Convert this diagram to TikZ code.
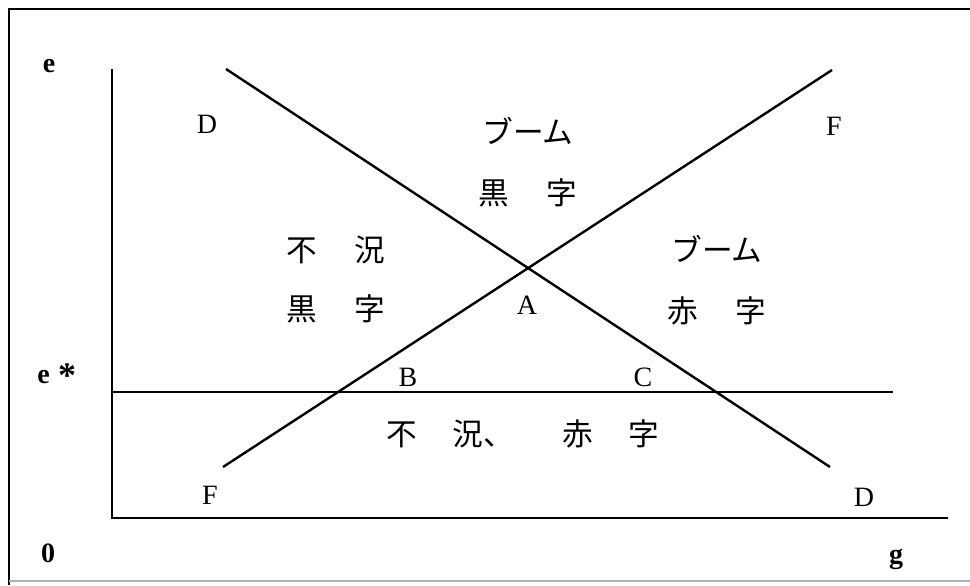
\documentclass[tikz,border=0pt]{standalone}
\usepackage{fontspec}
\setmainfont{Liberation Serif}
\newfontfamily\jp{Noto Sans CJK JP}
\begin{document}
\begin{tikzpicture}[x=0.75pt,y=-0.75pt,
  lat/.style={font=\fontsize{21}{23}\selectfont, inner sep=0pt},
  latb/.style={font=\fontsize{21}{23}\selectfont\bfseries, inner sep=0pt},
  jtxt/.style={font=\fontsize{23}{26}\selectfont\jp, inner sep=0pt},
  ln/.style={line width=1.8pt},
  ax/.style={line width=2.1pt}]
\useasboundingbox (0,0) rectangle (970,585);
\fill[white] (0,0) rectangle (970,585);
% frame
\draw[line width=1.8pt] (9,585) -- (9,9) -- (970,9);
\draw[line width=1pt, black!30] (9,581) -- (970,581);
% axes
\coordinate (ytop) at (112,69);
\coordinate (o) at (112,518);
\coordinate (xend) at (948,518);
\draw[ax] (ytop) -- (o) -- (xend);
% e* line
\coordinate (es0) at (112,392);
\coordinate (es1) at (893,392);
\draw[ln] (es0) -- (es1);
% D and F lines
\coordinate (d1) at (226,69);
\coordinate (d2) at (830,467);
\coordinate (f1) at (223,467);
\coordinate (f2) at (832,70);
\draw[ln] (d1) -- (d2);
\draw[ln] (f1) -- (f2);
% axis labels
\node[latb] (le) at (49,66) {e};
\node[latb, anchor=base west] (les) at (37,383) {e\hspace{0.3em}\raisebox{-0.15em}{\fontsize{27}{27}\selectfont *}};
\node[latb] (lo) at (48,553) {0};
\node[latb] (lg) at (896,559) {g};
% curve labels
\node[lat] (lD1) at (207,124) {D};
\node[lat] (lF1) at (834,126) {F};
\node[lat] (lF2) at (210,495) {F};
\node[lat] (lD2) at (864,497) {D};
\node[lat] (lA) at (527,305) {A};
\node[lat] (lB) at (408,377) {B};
\node[lat] (lC) at (643,377) {C};
% region labels
\node[jtxt] (t1) at (528,131) {ブーム};
\node[jtxt] (t2) at (528,193) {黒\hspace{1.2em}字};
\node[jtxt] (t3) at (336,250) {不\hspace{1.2em}況};
\node[jtxt] (t4) at (336,309) {黒\hspace{1.2em}字};
\node[jtxt] (t5) at (717,249) {ブーム};
\node[jtxt] (t6) at (717,311) {赤\hspace{1.2em}字};
\node[jtxt] (t7) at (523,434) {不\hspace{1.15em}況、\hspace{1.6em}赤\hspace{1.15em}字};
\end{tikzpicture}
\end{document}
